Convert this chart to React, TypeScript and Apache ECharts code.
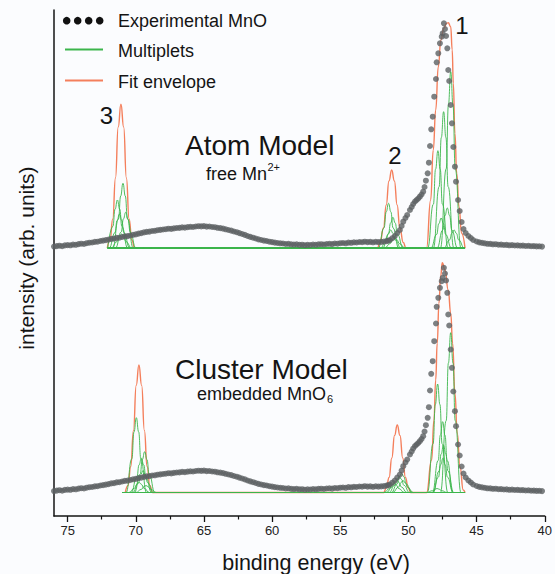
import React, { useEffect, useRef } from "react";
import * as echarts from "echarts";

// ---------- data (binding energy eV, intensity arb. units above each panel's baseline) ----------
const experimental: [number, number][] = [
  [76.0, 1.4], [75.8, 1.9], [75.6, 2.3], [75.4, 1.8], [75.2, 2.6], [75.0, 2.9], [74.8, 2.7], [74.6, 3.4],
  [74.4, 3.2], [74.2, 3.9], [74.0, 4.3], [73.8, 4.0], [73.6, 4.8], [73.4, 5.3], [73.2, 5.5], [73.0, 6.1],
  [72.8, 6.3], [72.6, 7.0], [72.4, 7.4], [72.2, 7.9], [72.0, 8.4], [71.8, 9.1], [71.6, 9.4], [71.4, 10.1],
  [71.2, 10.3], [71.0, 11.0], [70.8, 11.6], [70.6, 11.9], [70.4, 12.5], [70.2, 13.2], [70.0, 13.6], [69.8, 14.4],
  [69.6, 14.9], [69.4, 15.6], [69.2, 16.1], [69.0, 16.4], [68.8, 17.0], [68.6, 17.2], [68.4, 17.8], [68.2, 18.1],
  [68.0, 18.5], [67.8, 18.8], [67.6, 19.3], [67.4, 19.1], [67.2, 19.6], [67.0, 20.0], [66.8, 20.1], [66.6, 20.6],
  [66.4, 20.4], [66.2, 20.9], [66.0, 21.2], [65.8, 21.0], [65.6, 21.5], [65.4, 21.8], [65.2, 21.6], [65.0, 21.9],
  [64.8, 21.4], [64.6, 21.5], [64.4, 21.0], [64.2, 20.8], [64.0, 20.2], [63.8, 19.9], [63.6, 19.4], [63.4, 18.7],
  [63.2, 18.0], [63.0, 17.4], [62.8, 16.5], [62.6, 15.8], [62.4, 14.9], [62.2, 14.0], [62.0, 13.1], [61.8, 12.0],
  [61.6, 11.1], [61.4, 10.3], [61.2, 9.5], [61.0, 8.6], [60.8, 8.0], [60.6, 7.4], [60.4, 7.0], [60.2, 6.3],
  [60.0, 5.9], [59.8, 5.4], [59.6, 5.0], [59.4, 4.7], [59.2, 4.5], [59.0, 4.0], [58.8, 4.2], [58.6, 3.6],
  [58.4, 3.4], [58.2, 3.7], [58.0, 3.1], [57.8, 3.3], [57.6, 2.8], [57.4, 3.2], [57.2, 3.0], [57.0, 3.5],
  [56.8, 3.2], [56.6, 3.6], [56.4, 3.8], [56.2, 3.5], [56.0, 4.0], [55.8, 4.2], [55.6, 3.9], [55.4, 4.5],
  [55.2, 4.3], [55.0, 4.8], [54.8, 5.0], [54.6, 4.7], [54.4, 5.4], [54.2, 5.2], [54.0, 5.7], [53.8, 5.5],
  [53.6, 6.0], [53.4, 5.8], [53.2, 6.3], [53.0, 5.9], [52.8, 6.1], [52.6, 5.7], [52.4, 6.2], [52.2, 5.9],
  [52.0, 6.1], [51.8, 6.4], [51.6, 6.9], [51.48, 7.3], [51.36, 8.0], [51.18, 9.8], [51.0, 12.0], [50.82, 15.0],
  [50.63, 18.0], [50.5, 22.0], [50.38, 26.3], [50.22, 30.0], [50.09, 33.0], [49.89, 38.0], [49.76, 41.0],
  [49.65, 44.0], [49.52, 46.5], [49.4, 48.0], [49.28, 49.5], [49.16, 51.3], [49.04, 53.5], [48.92, 56.3],
  [48.82, 61.0], [48.72, 67.3], [48.59, 74.7], [48.5, 85.3], [48.42, 102.0], [48.33, 118.7], [48.22, 131.3],
  [48.11, 151.3], [47.98, 169.0], [47.93, 185.7], [47.81, 194.7], [47.69, 204.7], [47.56, 211.3], [47.49, 214.7],
  [47.4, 224.7], [47.32, 219.0], [47.24, 212.0], [47.15, 199.7], [47.08, 178.0], [47.01, 167.0], [46.9, 143.0],
  [46.81, 124.7], [46.71, 101.0], [46.59, 81.3], [46.51, 66.3], [46.36, 48.0], [46.24, 37.0], [46.1, 26.0],
  [45.96, 19.0], [45.8, 15.0], [45.6, 12.0], [45.42, 10.0], [45.25, 8.0], [45.0, 6.5], [44.8, 5.6], [44.6, 5.1],
  [44.4, 4.7], [44.2, 4.2], [44.0, 4.1], [43.8, 3.7], [43.6, 3.8], [43.4, 3.3], [43.2, 3.4], [43.0, 3.0],
  [42.8, 3.1], [42.6, 2.7], [42.4, 2.9], [42.2, 2.5], [42.0, 2.6], [41.8, 2.3], [41.6, 2.4], [41.4, 2.0],
  [41.2, 2.2], [41.0, 1.8], [40.8, 1.9], [40.6, 1.6], [40.4, 1.7], [40.2, 1.4],
];

// Atom model (free Mn2+) fit envelope
const atomEnvelope: [number, number][] = [
  [72.09, 0], [71.89, 8], [71.69, 29], [71.49, 70], [71.29, 121], [71.09, 143.7], [70.89, 121], [70.69, 70],
  [70.49, 29], [70.29, 8], [70.09, 0],
  [52.28, 0], [52.08, 5.5], [51.83, 20], [51.63, 43], [51.43, 67], [51.23, 78], [51.03, 67], [50.83, 43],
  [50.63, 20], [50.38, 5.5], [50.18, 0],
  [48.67, 0], [48.37, 48], [48.18, 98], [48.0, 138], [47.81, 181.3], [47.62, 208], [47.4, 219.7], [47.2, 224.7],
  [47.08, 225.3], [46.9, 221.3], [46.79, 198], [46.71, 164.7], [46.59, 114.7], [46.46, 74.7], [46.29, 41.3],
  [46.1, 14.7], [45.85, 0],
];

// Atom model multiplets
const atomMultipletSpan: [number, number] = [72.06, 45.85];
const atomMultiplets: [number, number][][] = [
  [[71.69, 0], [71.27, 29], [71.11, 52], [70.94, 64.7], [70.77, 52], [70.61, 29], [70.19, 0]],
  [[72.05, 0], [71.68, 21.6], [71.52, 38.9], [71.35, 48], [71.18, 38.9], [71.02, 21.6], [70.6, 0]],
  [[71.49, 0], [71.07, 16], [70.91, 29], [70.74, 35.7], [70.57, 29], [70.41, 16], [69.99, 0]],
  [[71.95, 0], [71.53, 15.3], [71.37, 27.5], [71.2, 34], [71.03, 27.5], [70.87, 15.3], [70.45, 0]],
  [[71.8, 0], [71.38, 6.3], [71.22, 11.3], [71.05, 14], [70.88, 11.3], [70.72, 6.3], [70.3, 0]],
  [[52.21, 0], [51.79, 20.1], [51.63, 36.2], [51.46, 44.7], [51.29, 36.2], [51.13, 20.1], [50.71, 0]],
  [[51.89, 0], [51.47, 13.8], [51.31, 24.9], [51.14, 30.7], [50.97, 24.9], [50.81, 13.8], [50.39, 0]],
  [[52.05, 0], [51.63, 8.1], [51.47, 14.6], [51.3, 18], [51.13, 14.6], [50.97, 8.1], [50.55, 0]],
  [[51.75, 0], [51.33, 4.5], [51.17, 8.1], [51.0, 10], [50.83, 8.1], [50.67, 4.5], [50.25, 0]],
  [[47.65, 0], [47.23, 79.3], [47.07, 142.8], [46.9, 176.3], [46.73, 142.8], [46.57, 79.3], [46.15, 0]],
  [[48.17, 0], [47.75, 61.3], [47.59, 110.4], [47.42, 136.3], [47.25, 110.4], [47.09, 61.3], [46.67, 0]],
  [[48.59, 0], [48.17, 43.8], [48.01, 78.8], [47.84, 97.3], [47.67, 78.8], [47.51, 43.8], [47.09, 0]],
  [[48.35, 0], [47.93, 13.5], [47.77, 24.3], [47.6, 30], [47.43, 24.3], [47.27, 13.5], [46.85, 0]],
  [[47.9, 0], [47.48, 18], [47.32, 32.4], [47.15, 40], [46.98, 32.4], [46.82, 18], [46.4, 0]],
  [[47.4, 0], [46.98, 8.1], [46.82, 14.6], [46.65, 18], [46.48, 14.6], [46.32, 8.1], [45.9, 0]],
];

// Cluster model (embedded MnO6) fit envelope
const clusterEnvelope: [number, number][] = [
  [70.77, 0], [70.57, 7], [70.37, 26], [70.17, 62], [69.97, 107], [69.77, 127.5], [69.57, 107], [69.37, 62],
  [69.17, 26], [68.97, 7], [68.77, 0],
  [51.82, 0], [51.62, 4.6], [51.42, 15], [51.22, 34.5], [51.02, 57], [50.82, 67.5], [50.62, 57], [50.42, 34.5],
  [50.22, 15], [50.02, 4.6], [49.82, 0],
  [48.67, 0], [48.3, 32.5], [48.13, 72.5], [48.0, 112.5], [47.89, 149.2], [47.76, 189.2], [47.64, 215.8],
  [47.52, 229.8], [47.32, 222.5], [47.08, 202.5], [46.9, 179.2], [46.76, 149.2], [46.59, 99.2], [46.42, 59.2],
  [46.22, 25.8], [45.98, 2.5], [45.85, 0],
];

// Cluster model multiplets
const clusterMultipletSpan: [number, number] = [71.0, 45.85];
const clusterMultiplets: [number, number][][] = [
  [[70.71, 0], [70.29, 33.7], [70.13, 60.6], [69.96, 74.8], [69.79, 60.6], [69.63, 33.7], [69.21, 0]],
  [[70.1, 0], [69.68, 18.4], [69.52, 33], [69.35, 40.8], [69.18, 33], [69.02, 18.4], [68.6, 0]],
  [[70.34, 0], [69.92, 15.4], [69.76, 27.7], [69.59, 34.2], [69.42, 27.7], [69.26, 15.4], [68.84, 0]],
  [[70.22, 0], [69.8, 9.9], [69.64, 17.8], [69.47, 22], [69.3, 17.8], [69.14, 9.9], [68.72, 0]],
  [[70.5, 0], [70.08, 4.5], [69.92, 8.1], [69.75, 10], [69.58, 8.1], [69.42, 4.5], [69.0, 0]],
  [[70.0, 0], [69.58, 3.2], [69.42, 5.7], [69.25, 7], [69.08, 5.7], [68.92, 3.2], [68.5, 0]],
  [[51.25, 0], [50.83, 8.6], [50.67, 15.6], [50.5, 19.2], [50.33, 15.6], [50.17, 8.6], [49.75, 0]],
  [[51.42, 0], [51.0, 7.2], [50.84, 13], [50.67, 16], [50.5, 13], [50.34, 7.2], [49.92, 0]],
  [[51.61, 0], [51.19, 5.6], [51.03, 10.1], [50.86, 12.5], [50.69, 10.1], [50.53, 5.6], [50.11, 0]],
  [[51.8, 0], [51.38, 4], [51.22, 7.3], [51.05, 9], [50.88, 7.3], [50.72, 4], [50.3, 0]],
  [[51.15, 0], [50.73, 5.4], [50.57, 9.7], [50.4, 12], [50.23, 9.7], [50.07, 5.4], [49.65, 0]],
  [[47.65, 0], [47.23, 71.9], [47.07, 129.4], [46.9, 159.8], [46.73, 129.4], [46.57, 71.9], [46.15, 0]],
  [[48.61, 0], [48.19, 48.8], [48.03, 87.9], [47.86, 108.5], [47.69, 87.9], [47.53, 48.8], [47.11, 0]],
  [[48.24, 0], [47.82, 31.9], [47.66, 57.3], [47.49, 70.8], [47.32, 57.3], [47.16, 31.9], [46.74, 0]],
  [[48.18, 0], [47.76, 21.4], [47.6, 38.5], [47.43, 47.5], [47.26, 38.5], [47.1, 21.4], [46.68, 0]],
  [[48.22, 0], [47.8, 15.4], [47.64, 27.7], [47.47, 34.2], [47.3, 27.7], [47.14, 15.4], [46.72, 0]],
  [[48.65, 0], [48.23, 1.8], [48.07, 3.2], [47.9, 4], [47.73, 3.2], [47.57, 1.8], [47.15, 0]],
];

// axis
const majorTicks = [40, 45, 50, 55, 60, 65, 70, 75];
const minorTicks = [42.5, 47.5, 52.5, 57.5, 62.5, 67.5, 72.5];

// vertical placement of the two stacked panels (baseline of each spectrum)
const ATOM_BASE = 268;
const CLUSTER_BASE = 23.5;
const Y_MAX = 506;

// ---------- styles ----------
const FONT = '"Liberation Sans", Arial, Helvetica, sans-serif';
const GREEN = "#3cb54c";
const ORANGE = "#f47f5c";
const DOT = "#5d6063";
const INK = "#141414";

const lift = (pts: [number, number][], base: number) => pts.map(([e, v]) => [e, v + base]);

function multipletSeries(peaks: [number, number][][], span: [number, number], base: number) {
  return peaks.map((pk) => ({
    type: "line",
    data: lift([[span[0], 0], ...pk, [span[1], 0]] as [number, number][], base),
    smooth: 0.5,
    smoothMonotone: "x",
    showSymbol: false,
    symbol: "none",
    silent: true,
    z: 3,
    lineStyle: { color: GREEN, width: 0.9 },
  }));
}

function envelopeSeries(pts: [number, number][], base: number) {
  return {
    type: "line",
    data: lift(pts, base),
    smooth: 0.5,
    smoothMonotone: "x",
    showSymbol: false,
    symbol: "none",
    silent: true,
    z: 2,
    lineStyle: { color: ORANGE, width: 1.4 },
  };
}

function expSeries(base: number) {
  return {
    type: "scatter",
    data: lift(experimental, base),
    symbol: "circle",
    symbolSize: 6,
    silent: true,
    z: 4,
    itemStyle: { color: DOT },
  };
}

function txt(text: string, x: number, y: number, size: number, extra: any = {}) {
  return {
    type: "text",
    x,
    y,
    silent: true,
    z: 10,
    style: {
      text,
      fill: INK,
      fontSize: size,
      fontFamily: FONT,
      align: extra.align || "left",
      textAlign: extra.align || "left",
      verticalAlign: "middle",
      textVerticalAlign: "middle",
    },
    ...(extra.rotation ? { rotation: extra.rotation } : {}),
  };
}

export default function App() {
  const ref = useRef<HTMLDivElement>(null);

  useEffect(() => {
    if (!ref.current) return;
    const chart = echarts.init(ref.current, null, { renderer: "svg" });

    const legendDots = [66.7, 77.7, 88.7, 99.7].map((cx) => ({
      type: "circle",
      shape: { cx, cy: 20.7, r: 3.8 },
      style: { fill: "#111" },
      silent: true,
    }));

    const option: any = {
      animation: false,
      backgroundColor: "#fbfcfe",
      grid: { left: 54, right: 10, top: 10, bottom: 58, containLabel: false },
      xAxis: [
        {
          type: "value",
          min: 40,
          max: 76,
          inverse: true,
          position: "bottom",
          axisLine: { show: true, onZero: false, lineStyle: { color: INK, width: 1.5 } },
          axisTick: { show: true, customValues: majorTicks, length: 6, lineStyle: { color: INK, width: 1.3 } },
          axisLabel: { customValues: majorTicks, fontSize: 13, color: "#222", margin: 8, fontFamily: FONT },
          splitLine: { show: false },
        },
        {
          type: "value",
          min: 40,
          max: 76,
          inverse: true,
          position: "bottom",
          offset: 0,
          axisLine: { show: false },
          axisTick: { show: true, customValues: minorTicks, length: 3.5, lineStyle: { color: INK, width: 1.2 } },
          axisLabel: { show: false },
          splitLine: { show: false },
        },
      ],
      yAxis: {
        type: "value",
        min: 0,
        max: Y_MAX,
        axisLine: { show: true, onZero: false, lineStyle: { color: INK, width: 1.5 } },
        axisTick: { show: false },
        axisLabel: { show: false },
        splitLine: { show: false },
      },
      series: [
        envelopeSeries(atomEnvelope, ATOM_BASE),
        envelopeSeries(clusterEnvelope, CLUSTER_BASE),
        ...multipletSeries(atomMultiplets, atomMultipletSpan, ATOM_BASE),
        ...multipletSeries(clusterMultiplets, clusterMultipletSpan, CLUSTER_BASE),
        expSeries(ATOM_BASE),
        expSeries(CLUSTER_BASE),
      ],
      graphic: [
        ...legendDots,
        { type: "line", shape: { x1: 65, y1: 49.5, x2: 103, y2: 49.5 }, style: { stroke: GREEN, lineWidth: 1.8 }, silent: true },
        { type: "line", shape: { x1: 65, y1: 80.5, x2: 103, y2: 80.5 }, style: { stroke: ORANGE, lineWidth: 1.8 }, silent: true },
        txt("Experimental MnO", 118, 20.7, 18),
        txt("Multiplets", 118, 51, 18),
        txt("Fit envelope", 118, 82, 18),
        txt("1", 462, 25, 24, { align: "center" }),
        txt("2", 395, 155, 24, { align: "center" }),
        txt("3", 106.5, 115, 24, { align: "center" }),
        txt("Atom Model", 185, 145, 28),
        txt("free Mn", 206, 174, 18),
        txt("2+", 267.5, 167, 11),
        txt("Cluster Model", 175, 369, 28),
        txt("embedded MnO", 197, 394, 18),
        txt("6", 327, 399, 11),
        txt("binding energy (eV)", 316, 563, 21.5, { align: "center" }),
        txt("intensity (arb. units)", 26, 258, 21, { align: "center", rotation: Math.PI / 2 }),
      ],
    };

    chart.setOption(option);
    return () => chart.dispose();
  }, []);

  return (
    <div
      ref={ref}
      style={{ position: "fixed", left: 0, top: 0, width: 555, height: 574, background: "#fbfcfe" }}
    />
  );
}
